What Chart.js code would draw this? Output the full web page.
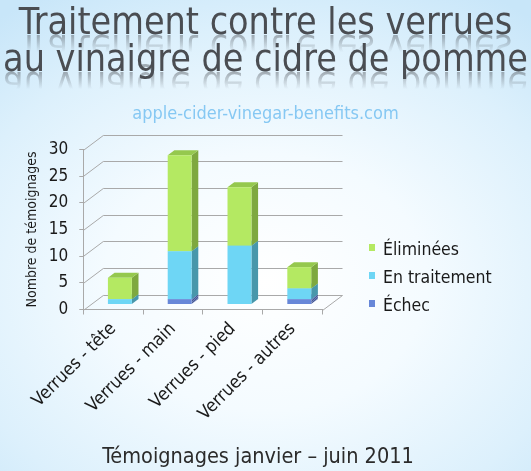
<!DOCTYPE html>
<html><head><meta charset="utf-8">
<script src="https://cdn.jsdelivr.net/npm/chart.js@4.4.1/dist/chart.umd.min.js"></script>
<style>
html,body{margin:0;padding:0;width:531px;height:471px;overflow:hidden;}
body{background:radial-gradient(ellipse 80% 72% at 50% 60%, #ffffff 0%, #f4fbff 38%, #dcf0fc 75%, #c8e6f9 100%);}
#wrap{position:relative;width:531px;height:471px;}
</style></head><body>
<div id="wrap"><canvas id="c" width="531" height="471"></canvas></div>
<script>
// ---- data ----
const categories = ['Verrues - tête', 'Verrues - main', 'Verrues - pied', 'Verrues - autres'];
const echec = [0, 1, 0, 1];
const enTraitement = [1, 9, 11, 2];
const eliminees = [4, 18, 11, 4];
const yTicks = [0, 5, 10, 15, 20, 25, 30];
const seriesNames = ['Échec', 'En traitement', 'Éliminées'];
const titleLines = ['Traitement contre les verrues', 'au vinaigre de cidre de pomme'];
const siteText = 'apple-cider-vinegar-benefits.com';
const footerText = 'Témoignages janvier – juin 2011';
const yAxisTitle = 'Nombre de témoignages';

// ---- styles ----
const FAM = '"DejaVu Sans Condensed", "DejaVu Sans", sans-serif';
const FRONT = ['#6787d8', '#6ed6f5', '#b4e962'];
const SIDE = [null, '#4897ab', '#7ea83f'];
const TOP = ['#5a78c8', '#5cc0dd', '#95c84e'];
const GRID = '#a9a9a9';
const DEPTH = {x: 20, y: -15};
const PLOT = {left: 83.3, right: 322.5, bottom: 309.5};

function hatch(ctx) {
  const c = document.createElement('canvas'); c.width = 2; c.height = 2;
  const g = c.getContext('2d');
  g.fillStyle = '#8fa2da'; g.fillRect(0, 0, 2, 2);
  g.fillStyle = '#2c3b72'; g.fillRect(0, 0, 1, 1); g.fillRect(1, 1, 1, 1);
  return ctx.createPattern(c, 'repeat');
}

const threeD = {
  id: 'threeD',
  beforeDatasetsDraw(chart) {
    const {ctx, chartArea: {left, right}, scales: {y}} = chart;
    ctx.save();
    ctx.strokeStyle = GRID; ctx.lineWidth = 1;
    yTicks.forEach(v => {
      const py = Math.round(y.getPixelForValue(v)) + 0.5;
      ctx.beginPath();
      ctx.moveTo(left, py);
      ctx.lineTo(left + DEPTH.x, py + DEPTH.y);
      ctx.lineTo(right + DEPTH.x, py + DEPTH.y);
      ctx.stroke();
    });
    const p0 = Math.round(y.getPixelForValue(0)) + 0.5;
    ctx.beginPath();
    ctx.moveTo(right, p0);
    ctx.lineTo(right + DEPTH.x, p0 + DEPTH.y);
    ctx.stroke();
    ctx.restore();

    ctx.save();
    const bx = DEPTH.x / 3, by = DEPTH.y / 3;
    ctx.translate(bx, by);
    const pat = hatch(ctx);
    chart.data.datasets.forEach((ds, d) => {
      const meta = chart.getDatasetMeta(d);
      meta.data.forEach((el, i) => {
        if (!ds.data[i]) return;
        const p = el.getProps(['x', 'y', 'base', 'width'], true);
        const L = p.x - p.width / 2, R = p.x + p.width / 2, T = Math.min(p.y, p.base), B = Math.max(p.y, p.base);
        ctx.fillStyle = SIDE[d] || pat;
        ctx.beginPath();
        ctx.moveTo(R, B); ctx.lineTo(R + bx, B + by); ctx.lineTo(R + bx, T + by); ctx.lineTo(R, T);
        ctx.closePath(); ctx.fill();
        ctx.fillStyle = TOP[d];
        ctx.beginPath();
        ctx.moveTo(L, T); ctx.lineTo(L + bx, T + by); ctx.lineTo(R + bx, T + by); ctx.lineTo(R, T);
        ctx.closePath(); ctx.fill();
      });
    });
  },
  afterDatasetsDraw(chart) { chart.ctx.restore(); },
  afterDraw(chart) {
    const ctx = chart.ctx;
    // title reflection
    const tb = chart.titleBlock;
    if (tb) {
      const f = Chart.helpers.toFont(tb.options.font);
      ctx.save();
      ctx.font = f.string;
      ctx.textBaseline = 'middle';
      const d = ctx.measureText('T').actualBoundingBoxDescent;
      ctx.textBaseline = 'alphabetic';
      ctx.textAlign = 'center';
      const cx = (tb.left + tb.right) / 2;
      titleLines.forEach((line, i) => {
        const mid = tb.top + tb._padding.top + f.lineHeight / 2 + i * f.lineHeight;
        const base = mid + d + 1;
        ctx.save();
        ctx.translate(cx, base);
        ctx.scale(1, -1);
        const g = ctx.createLinearGradient(0, 0, 0, -17);
        g.addColorStop(0, 'rgba(78,82,88,0.45)');
        g.addColorStop(1, 'rgba(78,82,88,0)');
        ctx.fillStyle = g;
        ctx.fillText(line, 0, 0);
        ctx.restore();
      });
      ctx.restore();
    }
    // legend (top series first)
    ctx.save();
    ctx.font = '17.5px ' + FAM;
    ctx.textBaseline = 'alphabetic';
    ctx.textAlign = 'left';
    const order = [2, 1, 0];
    order.forEach((d, k) => {
      const base = 255 + k * 28;
      ctx.fillStyle = FRONT[d];
      ctx.fillRect(369, base - 11, 6, 7);
      ctx.fillStyle = '#1a1a1a';
      ctx.fillText(chart.data.datasets[d].label, 383, base);
    });
    // footer
    ctx.font = '21.5px ' + FAM;
    ctx.fillStyle = '#2b2b2b';
    ctx.textAlign = 'center';
    ctx.fillText(footerText, 258, 463);
    ctx.restore();
  }
};

new Chart(document.getElementById('c'), {
  type: 'bar',
  data: {
    labels: categories,
    datasets: [
      {label: seriesNames[0], data: echec, backgroundColor: FRONT[0], clip: false},
      {label: seriesNames[1], data: enTraitement, backgroundColor: FRONT[1], clip: false},
      {label: seriesNames[2], data: eliminees, backgroundColor: FRONT[2], clip: false}
    ]
  },
  options: {
    responsive: false,
    animation: false,
    devicePixelRatio: 1,
    layout: {padding: 0},
    datasets: {bar: {barPercentage: 0.4, categoryPercentage: 1.0, borderWidth: 0}},
    plugins: {
      legend: {display: false},
      tooltip: {enabled: false},
      title: {
        display: true, text: titleLines, color: '#4a4d52',
        font: {family: FAM, size: 37.3, weight: 'normal', lineHeight: '37px'},
        padding: {top: 5.9, bottom: 0}
      },
      subtitle: {
        display: true, text: siteText, color: '#86c8f3',
        font: {family: FAM, size: 18, weight: 'normal', lineHeight: '20px'},
        padding: {top: 24.6, bottom: 25}
      }
    },
    scales: {
      x: {
        stacked: true,
        grid: {display: true, drawOnChartArea: false, drawTicks: true, tickLength: 5, color: GRID, offset: true},
        border: {display: true, color: GRID},
        ticks: {minRotation: 45, maxRotation: 45, color: '#1a1a1a', font: {family: FAM, size: 18}, padding: 4},
        afterFit(s) { s.height = 471 - PLOT.bottom; }
      },
      y: {
        stacked: true, min: yTicks[0], max: yTicks[yTicks.length - 1],
        ticks: {stepSize: yTicks[1] - yTicks[0], color: '#1a1a1a', font: {family: FAM, size: 17}, padding: 11},
        grid: {display: true, drawOnChartArea: false, drawTicks: true, tickLength: 4, color: GRID},
        border: {display: true, color: GRID},
        title: {display: true, text: yAxisTitle, color: '#1a1a1a', font: {family: FAM, size: 14}, padding: {top: 24, bottom: 0}},
        afterFit(s) { s.width = PLOT.left; }
      },
      spacer: {
        type: 'linear', position: 'right', display: true,
        grid: {display: false}, border: {display: false}, ticks: {display: false},
        afterFit(s) { s.width = 531 - PLOT.right; }
      }
    }
  },
  plugins: [threeD]
});
</script>
</body></html>
